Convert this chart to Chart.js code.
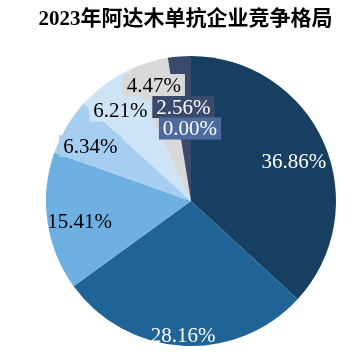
<!DOCTYPE html>
<html>
<head>
<meta charset="utf-8">
<script src="https://cdn.jsdelivr.net/npm/chart.js@4.4.0/dist/chart.umd.min.js"></script>
<style>
  html, body { margin: 0; padding: 0; background: #ffffff; }
  #wrap { position: relative; width: 362px; height: 358px; }
  #title { position: absolute; left: 0; top: 4px; width: 371px; text-align: center;
    font-family: "Liberation Serif", "Noto Sans CJK SC", serif; font-weight: bold; font-size: 21px;
    color: #000; line-height: 28px; white-space: nowrap; }
  canvas { position: absolute; left: 0; top: 0; }
</style>
</head>
<body>
<div id="wrap">
  <canvas id="c" width="362" height="358"></canvas>
  <div id="title">2023年阿达木单抗企业竞争格局</div>
</div>
<script>
const titleText = "2023年阿达木单抗企业竞争格局";
const categories = ["企业A", "企业B", "企业C", "企业D", "企业E", "企业F", "企业G", "企业H"];
const shares = [36.86, 28.16, 15.41, 6.34, 6.21, 4.47, 2.56, 0.00];

const sliceColors = ["#163F61", "#1F6397", "#6FB0E2", "#A6CEF0", "#CDE4F7", "#D9D9D9", "#3A4A6C", "#4D6B9C"];
const labelColors = ["#ffffff", "#ffffff", "#000000", "#000000", "#000000", "#000000", "#ffffff", "#ffffff"];
const labelRadius = [0.76, 0.93, 0.78, 0.79, 0.79, 0.84, 0.65, 0.50];
const labelAngleShift = [2.5, 0, -2, -2.4, -1.6, -0.5, 0, -0.8];

document.getElementById('title').textContent = titleText;

const labelPlugin = {
  id: 'sliceLabels',
  afterDatasetsDraw(chart) {
    const ctx = chart.ctx;
    const meta = chart.getDatasetMeta(0);
    ctx.save();
    ctx.font = '21px "Liberation Serif", "Times New Roman", serif';
    ctx.textAlign = 'center';
    ctx.textBaseline = 'middle';
    meta.data.forEach((arc, i) => {
      const p = arc.getProps(['x', 'y', 'startAngle', 'endAngle', 'outerRadius'], true);
      const mid = (p.startAngle + p.endAngle) / 2 + labelAngleShift[i] * Math.PI / 180;
      const r = p.outerRadius * labelRadius[i];
      const x = p.x + Math.cos(mid) * r;
      const y = p.y + Math.sin(mid) * r;
      const txt = shares[i].toFixed(2) + '%';
      if (shares[i] < 10) {
        const w = ctx.measureText(txt).width + 8;
        ctx.fillStyle = sliceColors[i];
        ctx.fillRect(x - w / 2, y - 11, w, 22);
      }
      ctx.fillStyle = labelColors[i];
      ctx.fillText(txt, x, y + 1);
    });
    ctx.restore();
  }
};

new Chart(document.getElementById('c'), {
  type: 'pie',
  data: {
    labels: categories,
    datasets: [{
      data: shares,
      backgroundColor: sliceColors,
      borderWidth: 0
    }]
  },
  options: {
    responsive: false,
    animation: false,
    layout: { padding: { left: 46, right: 26, top: 56, bottom: 12 } },
    plugins: {
      legend: { display: false },
      title: { display: false },
      tooltip: { enabled: false }
    }
  },
  plugins: [labelPlugin]
});
</script>
</body>
</html>
